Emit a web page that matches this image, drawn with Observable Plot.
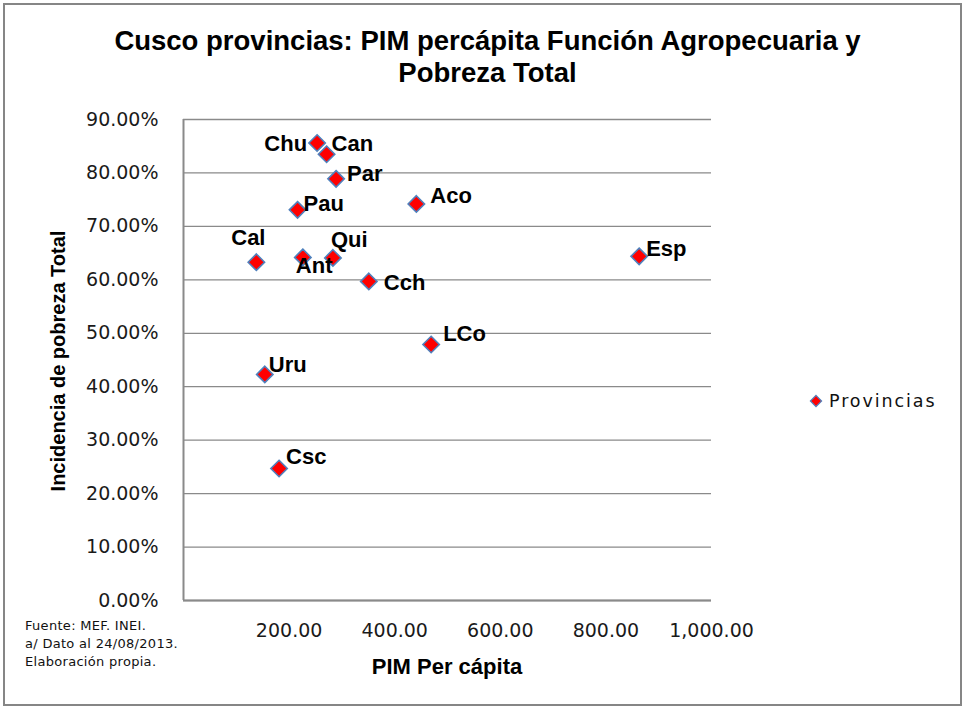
<!DOCTYPE html>
<html>
<head>
<meta charset="utf-8">
<script src="https://cdn.jsdelivr.net/npm/d3@7"></script>
<script src="https://cdn.jsdelivr.net/npm/@observablehq/plot@0.6"></script>
<style>
  html, body { margin: 0; padding: 0; background: #fff; }
  #wrap { position: relative; width: 965px; height: 709px; overflow: hidden; background: #fff; }
  #frame { position: absolute; left: 3px; top: 3px; width: 955px; height: 699px; border: 2px solid #868686; }
  #chart { position: absolute; left: 0; top: 0; }
  .abs { position: absolute; white-space: nowrap; color: #000; }
  #title { left: 0; width: 975px; top: 25px; text-align: center; font-family: "Liberation Sans", Arial, sans-serif; font-weight: bold; font-size: 27.5px; line-height: 32px; }
  #ylabel { left: 58px; top: 361px; transform: translate(-50%, -50%) rotate(-90deg); font-family: "Liberation Sans", Arial, sans-serif; font-weight: bold; font-size: 20px; }
  #xlabel { left: 447px; top: 667px; transform: translate(-50%, -50%); font-family: "Liberation Sans", Arial, sans-serif; font-weight: bold; font-size: 22px; }
  #legend { left: 808px; top: 401px; transform: translateY(-50%); font-family: "DejaVu Sans", sans-serif; font-size: 17.5px; letter-spacing: 1.9px; color: #111; display: flex; align-items: center; }
  #legend svg { margin-right: 5px; }
  #note { left: 25px; top: 617px; font-family: "DejaVu Sans", sans-serif; font-size: 13px; letter-spacing: 0.3px; line-height: 18px; color: #111; }
</style>
</head>
<body>
<div id="wrap">
  <div id="frame"></div>
  <div id="chart"></div>
  <div id="title" class="abs">Cusco provincias: PIM percápita Función Agropecuaria y<br>Pobreza Total</div>
  <div id="ylabel" class="abs">Incidencia de pobreza Total</div>
  <div id="xlabel" class="abs">PIM Per cápita</div>
  <div id="legend" class="abs"></div>
  <div id="note" class="abs">Fuente: MEF. INEI.<br>a/ Dato al 24/08/2013.<br>Elaboración propia.</div>
</div>
<script>
// ---- data ----
const provincias = ["Chu", "Can", "Par", "Pau", "Aco", "Cal", "Ant", "Qui", "Cch", "LCo", "Uru", "Csc", "Esp"];
const pimPerCapita = [253, 271, 289, 216, 441, 138, 226, 283, 351, 469, 154, 181, 863];
const pobrezaTotal = [85.6, 83.5, 78.9, 73.1, 74.2, 63.3, 64.2, 64.1, 59.7, 47.9, 42.3, 24.7, 64.4];
const xTicks = [200, 400, 600, 800, 1000];
const yTicks = [0, 10, 20, 30, 40, 50, 60, 70, 80, 90];
const seriesName = "Provincias";

// label placement (styling only, kept apart from the data)
const labelPlacement = {
  Chu: {anchor: "end", dx: -10, dy: 1},
  Can: {anchor: "start", dx: 5, dy: -10},
  Par: {anchor: "start", dx: 11, dy: -5},
  Pau: {anchor: "start", dx: 6, dy: -6},
  Aco: {anchor: "start", dx: 14, dy: -8},
  Cal: {anchor: "middle", dx: -8, dy: -24},
  Ant: {anchor: "start", dx: -7, dy: 9},
  Qui: {anchor: "start", dx: -2, dy: -18},
  Cch: {anchor: "start", dx: 15, dy: 2},
  LCo: {anchor: "start", dx: 12, dy: -11},
  Uru: {anchor: "start", dx: 4, dy: -9},
  Csc: {anchor: "start", dx: 7, dy: -12},
  Esp: {anchor: "start", dx: 7, dy: -7}
};

const data = provincias.map((p, i) => ({p, x: pimPerCapita[i], y: pobrezaTotal[i]}));

const tickFont = {fontFamily: "DejaVu Sans, sans-serif", fontSize: 19, letterSpacing: 1};

const labelMarks = data.map(d => {
  const lp = labelPlacement[d.p];
  return Plot.text([d], {
    x: "x", y: "y", text: "p",
    textAnchor: lp.anchor, dx: lp.dx, dy: lp.dy,
    fontWeight: "bold", fontSize: 22, fill: "#000",
    fontFamily: "Liberation Sans, Arial, sans-serif"
  });
});

const chart = Plot.plot({
  width: 965,
  height: 709,
  marginLeft: 183,
  marginRight: 254,
  marginTop: 119,
  marginBottom: 109,
  style: {background: "transparent", color: "#111", fontFamily: "DejaVu Sans, sans-serif"},
  x: {domain: [0, 1000]},
  y: {domain: [0, 90]},
  marks: [
    Plot.gridY(yTicks, {stroke: "#8a8a8a", strokeOpacity: 1, strokeWidth: 1.3}),
    Plot.ruleX([0], {stroke: "#8a8a8a", strokeWidth: 2}),
    Plot.ruleY([0], {stroke: "#8a8a8a", strokeWidth: 2}),
    Plot.axisY(yTicks, {
      tickSize: 0, tickPadding: 25, label: null,
      tickFormat: d => d.toFixed(2) + "%",
      fill: "#1a1a1a", ...tickFont
    }),
    Plot.axisX(xTicks, {
      tickSize: 0, tickPadding: 23, label: null,
      tickFormat: d3.format(",.2f"),
      fill: "#1a1a1a", ...tickFont
    }),
    Plot.dot(data, {
      x: "x", y: "y", symbol: "diamond2", r: 7.4,
      fill: "#ff0000", stroke: "#4f81bd", strokeWidth: 1.6
    }),
    ...labelMarks
  ]
});
document.getElementById("chart").appendChild(chart);

// legend
const leg = d3.select("#legend");
const sw = leg.append("svg").attr("width", 16).attr("height", 16);
sw.append("path")
  .attr("d", d3.symbol(d3.symbolDiamond2, 80)())
  .attr("transform", "translate(8,8)")
  .attr("fill", "#ff0000").attr("stroke", "#4f81bd").attr("stroke-width", 1.2);
leg.append("span").text(seriesName);
</script>
</body>
</html>
